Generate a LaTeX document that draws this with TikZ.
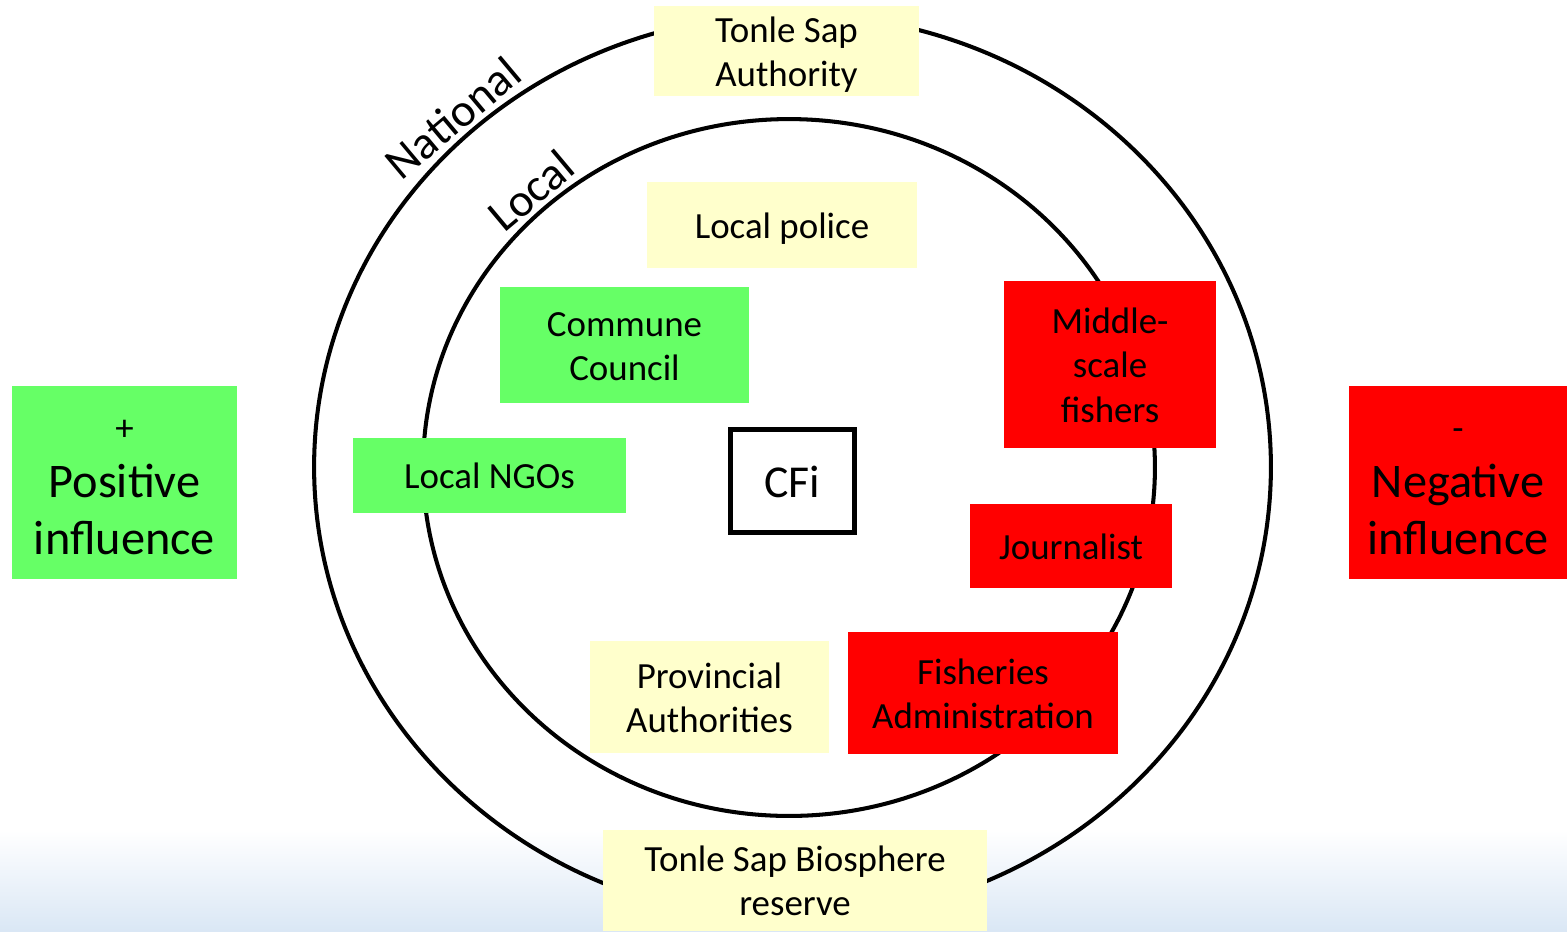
\documentclass[tikz,border=0pt]{standalone}
\usepackage{fontspec}
\setmainfont{Carlito}
\definecolor{boxgreen}{HTML}{66FF66}
\definecolor{boxred}{HTML}{FF0000}
\definecolor{boxyellow}{HTML}{FFFFCC}
\definecolor{skyblue}{HTML}{DAE7F5}
% line boxes as the slide software sets them
\newcommand{\topline}{\rule{0pt}{0.97em}}
\newcommand{\botline}{\rule[-0.25em]{0pt}{0pt}}

\begin{document}
\begin{tikzpicture}[x=0.02cm, y=-0.02cm,
      every node/.style={align=center, inner sep=0pt, font=\fontsize{21}{25.2}\selectfont},
      boxtext/.style={execute at begin node=\topline, execute at end node=\botline},
      greenbox/.style={boxtext, fill=boxgreen},
      redbox/.style={boxtext, fill=boxred},
      yellowbox/.style={boxtext, fill=boxyellow},
      ring/.style={line width=2.3pt},
      ringlabel/.style={rotate=40, anchor=base, font=\fontsize{26.5}{30}\selectfont},
      bigtext/.style={font=\fontsize{27.5}{32.5}\selectfont}
    ]

    \useasboundingbox (0,0) rectangle (1567,931);
    % faint sky along the bottom
    \shade[top color=white, bottom color=skyblue] (0,830) rectangle (1567,931);

    % National and local rings
    \draw[ring] (792.5,467) ellipse [x radius=9.57cm, y radius=9.06cm];
    \draw[ring] (789,467.5) ellipse [x radius=7.32cm, y radius=6.97cm];
    \node[ringlabel] (Nat) at (463,130) {National};
    \node[ringlabel] (Loc) at (541,203) {Local};

    % Actors
    \node[yellowbox, minimum width=5.30cm, minimum height=1.76cm] (TSA) at (786.5,51) {\topline Tonle Sap\\Authority\botline};
    \node[yellowbox, minimum width=5.40cm, minimum height=1.72cm] (LP) at (782,225) {Local police};
    \node[greenbox, minimum width=4.98cm, minimum height=2.32cm] (CC) at (624.5,345) {\topline Commune\\Council\botline};
    \node[greenbox, minimum width=5.46cm, minimum height=1.50cm] (NGO) at (489.5,475.5) {Local NGOs};
    \node[boxtext, draw, line width=2.8pt, fill=white, minimum width=2.48cm, minimum height=2.06cm,
          font=\fontsize{26}{31}\selectfont] (CFi) at (792.5,481) {CFi};
    \node[redbox, minimum width=4.24cm, minimum height=3.34cm] (MSF) at (1110,364.5) {\topline Middle-\\scale\\fishers\botline};
    \node[redbox, minimum width=4.04cm, minimum height=1.68cm] (J) at (1071,546) {Journalist};
    \node[yellowbox, minimum width=4.78cm, minimum height=2.24cm] (PA) at (709.5,697) {\topline Provincial\\Authorities\botline};
    \node[redbox, minimum width=5.40cm, minimum height=2.44cm] (FA) at (983,693) {\topline Fisheries\\Administration\botline};
    \node[yellowbox, minimum width=7.68cm, minimum height=2.02cm] (TSB) at (795,880.5) {\topline Tonle Sap Biosphere\\reserve\botline};

    % Legend
    \node[fill=boxgreen, bigtext, minimum width=4.50cm, minimum height=3.86cm] (Pos) at (124.5,482.5)
      {{\fontsize{21}{25.2}\selectfont\rule{0pt}{23.7pt}+}\\Positive\\influence\rule[-6.9pt]{0pt}{0pt}};
    \node[fill=boxred, bigtext, minimum width=4.36cm, minimum height=3.86cm] (Neg) at (1458,482.5)
      {{\fontsize{21}{25.2}\selectfont\rule{0pt}{23.7pt}-}\\Negative\\influence\rule[-6.9pt]{0pt}{0pt}};

    \end{tikzpicture}
\end{document}
